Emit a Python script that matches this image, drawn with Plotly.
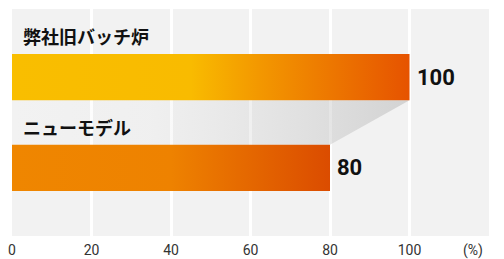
import plotly.graph_objects as go

categories = ["弊社旧バッチ炉", "ニューモデル"]
values = [100, 80]
value_labels = ["100", "80"]
x_ticks = [0, 20, 40, 60, 80, 100]
unit_label = "(%)"

bar_scales = [
    [[0, "#f9be00"], [0.45, "#f9bb00"], [0.62, "#f39800"], [1, "#e65300"]],
    [[0, "#ef8600"], [0.5, "#ee8200"], [1, "#db4c00"]],
]
half = 0.255

fig = go.Figure()

# connector shading between the two bars
fig.add_trace(go.Scatter(
    x=[0, values[0], values[1], 0, 0],
    y=[0 + half, 0 + half, 1 - half, 1 - half, 0 + half],
    mode="lines", line=dict(width=0), fill="toself",
    fillgradient=dict(type="horizontal", colorscale=[
        [0, "rgba(200,200,200,0)"], [0.35, "rgba(200,200,200,0.06)"],
        [1, "rgba(185,185,185,0.55)"]]),
    hoverinfo="skip", showlegend=False))

for i, (cat, v) in enumerate(zip(categories, values)):
    fig.add_trace(go.Scatter(
        x=[0, v, v, 0, 0],
        y=[i - half, i - half, i + half, i + half, i - half],
        mode="lines", line=dict(width=0), fill="toself",
        fillgradient=dict(type="horizontal", colorscale=bar_scales[i]),
        name=cat, hoverinfo="skip", showlegend=False))
    fig.add_annotation(x=0, y=i - 0.45, xref="x", yref="y", text=cat,
                       showarrow=False, xanchor="left", yanchor="middle", xshift=9,
                       font=dict(family="Noto Sans CJK JP", size=18, color="#111111", weight=700))
    fig.add_annotation(x=v, y=i, xref="x", yref="y", text=value_labels[i],
                       showarrow=False, xanchor="left", yanchor="middle", xshift=5,
                       font=dict(family="Roboto", size=22, color="#111111", weight=700))

fig.add_annotation(x=120, y=0, xref="x", yref="paper", text=unit_label,
                   showarrow=False, xanchor="right", yanchor="top", xshift=-4, yshift=-4,
                   font=dict(family="Roboto", size=14, color="#333333"))

fig.update_xaxes(range=[0, 120], tickvals=x_ticks, ticktext=[str(t) for t in x_ticks],
                 showgrid=True, gridcolor="#ffffff", gridwidth=3, zeroline=False,
                 showline=False, ticks="", ticklabelstandoff=4, automargin=False,
                 tickfont=dict(family="Roboto", size=14, color="#333333"))
fig.update_yaxes(range=[1.75, -0.75], showgrid=False, zeroline=False, automargin=False,
                 showticklabels=False, showline=False)

fig.update_layout(width=504, height=259, margin=dict(l=12, r=15, t=9, b=23, autoexpand=False),
                  paper_bgcolor="#ffffff", plot_bgcolor="#f2f2f2")

fig.write_html("out.html", config={"displayModeBar": False},
               post_script="document.body.style.margin='0';document.body.style.overflow='hidden';")
